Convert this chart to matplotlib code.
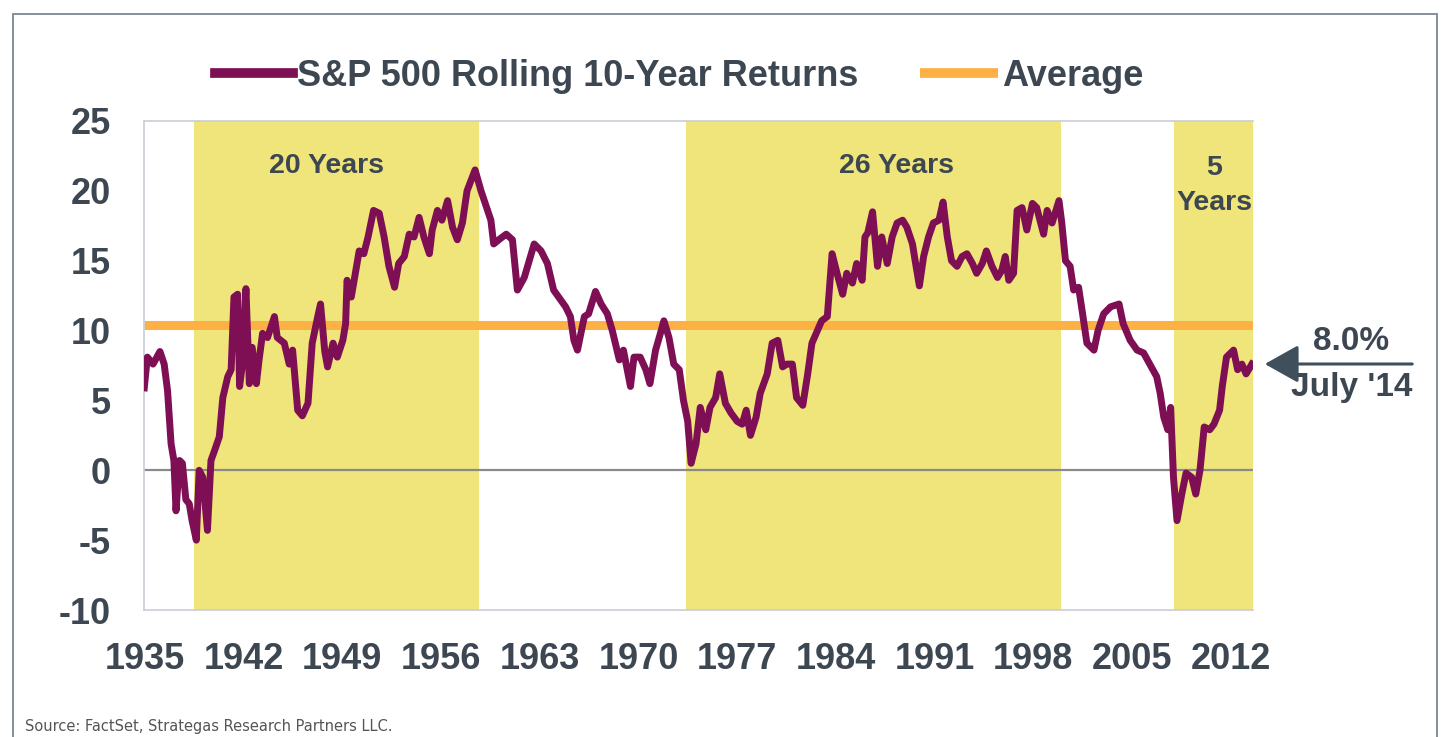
import matplotlib
matplotlib.use("Agg")
import matplotlib.pyplot as plt
from matplotlib.patches import Rectangle, FancyArrowPatch

# ---------------- data ----------------
years = [1934.95, 1935.17, 1935.57, 1936.06, 1936.36, 1936.6, 1936.85, 1937.05, 1937.2, 1937.45,
         1937.65, 1937.9, 1938.14, 1938.34, 1938.64, 1938.84, 1939.1, 1939.43, 1939.68, 1939.93,
         1940.27, 1940.52, 1940.87, 1941.11, 1941.31, 1941.57, 1941.71, 1941.91, 1942.16, 1942.4,
         1942.6, 1942.9, 1943.09, 1943.34, 1943.69, 1944.18, 1944.38, 1944.88, 1945.23, 1945.47,
         1945.83, 1946.16, 1946.56, 1946.86, 1947.25, 1947.45, 1947.75, 1947.95, 1948.34, 1948.64,
         1949.03, 1949.23, 1949.33, 1949.63, 1949.92, 1950.19, 1950.52, 1950.82, 1951.21, 1951.61,
         1951.96, 1952.3, 1952.7, 1952.99, 1953.39, 1953.74, 1954.08, 1954.44, 1954.78, 1955.17,
         1955.37, 1955.74, 1956.06, 1956.46, 1956.81, 1957.15, 1957.51, 1957.84, 1958.41, 1958.83,
         1959.13, 1959.53, 1959.73, 1960.22, 1960.62, 1961.06, 1961.41, 1961.9, 1962.6, 1963.09,
         1963.54, 1963.98, 1964.48, 1964.83, 1965.17, 1965.42, 1965.67, 1966.16, 1966.46, 1966.95,
         1967.35, 1967.79, 1968.14, 1968.64, 1968.93, 1969.43, 1969.68, 1970.12, 1970.52, 1970.81,
         1971.21, 1971.61, 1971.8, 1972.16, 1972.5, 1972.89, 1973.19, 1973.49, 1973.73, 1974.08,
         1974.38, 1974.77, 1975.07, 1975.47, 1975.76, 1976.16, 1976.56, 1977.0, 1977.35, 1977.64,
         1977.94, 1978.34, 1978.63, 1979.13, 1979.48, 1979.88, 1980.22, 1980.52, 1980.91, 1981.21,
         1981.65, 1982.0, 1982.3, 1982.69, 1982.99, 1983.39, 1983.73, 1984.08, 1984.48, 1984.77,
         1985.17, 1985.47, 1985.86, 1986.06, 1986.26, 1986.6, 1986.95, 1987.25, 1987.64, 1987.99,
         1988.34, 1988.73, 1989.03, 1989.43, 1989.62, 1989.92, 1990.22, 1990.57, 1990.91, 1991.31,
         1991.6, 1991.9, 1992.2, 1992.59, 1992.95, 1993.29, 1993.68, 1993.98, 1994.38, 1994.67,
         1995.07, 1995.46, 1995.76, 1996.01, 1996.26, 1996.6, 1996.85, 1997.2, 1997.54, 1997.94,
         1998.24, 1998.73, 1998.98, 1999.33, 1999.82, 2000.02, 2000.28, 2000.61, 2000.86, 2001.21,
         2001.45, 2001.8, 2002.3, 2002.59, 2002.99, 2003.48, 2004.08, 2004.37, 2004.87, 2005.36,
         2005.82, 2006.26, 2006.75, 2007.0, 2007.25, 2007.54, 2007.74, 2007.94, 2008.19, 2008.53,
         2008.83, 2009.23, 2009.52, 2009.82, 2010.12, 2010.51, 2010.81, 2011.21, 2011.4, 2011.7,
         2012.2, 2012.49, 2012.79, 2013.09, 2013.5]
returns = [5.9, 8.1, 7.6, 8.5, 7.6, 5.7, 1.9, 0.7, -2.9, 0.7,
           0.5, -2.1, -2.4, -3.6, -5.0, 0.0, -0.5, -4.3, 0.7, 1.4,
           2.4, 5.2, 6.7, 7.2, 12.4, 12.6, 6.0, 7.6, 13.0, 6.2,
           8.8, 6.2, 7.9, 9.8, 9.5, 11.0, 9.5, 9.1, 7.6, 8.6,
           4.3, 3.9, 4.8, 9.1, 11.0, 11.9, 8.5, 7.4, 9.1, 8.1,
           9.3, 10.5, 13.6, 12.4, 14.1, 15.7, 15.5, 16.7, 18.6, 18.4,
           16.7, 14.6, 13.1, 14.8, 15.3, 16.9, 16.7, 18.1, 16.7, 15.5,
           17.2, 18.6, 17.9, 19.3, 17.4, 16.5, 17.7, 20.0, 21.5, 20.0,
           19.1, 17.9, 16.2, 16.6, 16.9, 16.5, 12.9, 13.8, 16.2, 15.7,
           14.8, 12.9, 12.2, 11.7, 11.0, 9.3, 8.6, 11.0, 11.2, 12.8,
           11.9, 11.2, 10.0, 7.9, 8.6, 6.0, 8.1, 8.1, 7.2, 6.2,
           8.6, 10.0, 10.7, 9.5, 7.6, 7.2, 5.0, 3.5, 0.5, 1.9,
           4.5, 2.9, 4.5, 5.2, 6.9, 4.8, 4.1, 3.5, 3.3, 4.3,
           2.5, 3.8, 5.5, 6.9, 9.1, 9.3, 7.4, 7.6, 7.6, 5.2,
           4.65, 6.9, 9.1, 10.0, 10.7, 11.0, 15.5, 14.1, 12.6, 14.1,
           13.4, 14.8, 13.6, 16.7, 17.0, 18.5, 14.6, 16.7, 14.8, 16.7,
           17.7, 17.9, 17.4, 16.2, 15.0, 13.2, 15.3, 16.7, 17.7, 17.9,
           19.2, 16.7, 15.0, 14.6, 15.3, 15.5, 14.8, 14.1, 14.8, 15.7,
           14.6, 13.8, 14.3, 15.3, 13.6, 14.1, 18.6, 18.8, 17.2, 19.1,
           18.8, 16.9, 18.6, 17.7, 19.3, 17.7, 15.0, 14.6, 12.9, 13.1,
           11.5, 9.1, 8.6, 10.0, 11.2, 11.7, 11.9, 10.5, 9.3, 8.6,
           8.4, 7.6, 6.7, 5.5, 3.8, 2.9, 4.5, -0.5, -3.6, -1.7,
           -0.2, -0.5, -1.7, 0.0, 3.1, 2.9, 3.3, 4.3, 6.0, 8.1,
           8.6, 7.2, 7.6, 6.9, 7.6]
average_value = 10.4
bull_periods = [(1938.46, 1958.66), (1973.40, 1999.99), (2008.0, 2013.58)]
bull_labels = ["20 Years", "26 Years", "5\nYears"]
x_ticks = [1935, 1942, 1949, 1956, 1963, 1970, 1977, 1984, 1991, 1998, 2005, 2012]
y_ticks = [-10, -5, 0, 5, 10, 15, 20, 25]
series_name = "S&P 500 Rolling 10-Year Returns"
avg_name = "Average"
latest_label = "8.0%"
latest_date = "July '14"
source_text = "Source: FactSet, Strategas Research Partners LLC."

# ---------------- style ----------------
PURPLE = "#7E0F55"
ORANGE = "#FDB144"
YELLOW = "#EFE57A"
TEXT = "#3D4752"
NARROW = ["Liberation Sans Narrow", "Liberation Sans", "DejaVu Sans"]
WIDE = ["Liberation Sans", "DejaVu Sans"]

W, H = 1441, 737
fig = plt.figure(figsize=(W / 100, H / 100), dpi=100)
fig.patch.set_facecolor("white")

def fx(px):
    return px / W

def fy(py):
    return 1 - py / H

ax = fig.add_axes([fx(144), fy(610), fx(1253) - fx(144), fy(121) - fy(610)])
ax.set_xlim(1934.93, 2013.58)
ax.set_ylim(-10, 25)

for (a, b) in bull_periods:
    ax.axvspan(a, b, color=YELLOW, lw=0, zorder=0)

ax.axhline(0, color="#8A8A8A", lw=1.6, zorder=1)
avg_line, = ax.plot([1934.93, 2013.58], [average_value, average_value], color=ORANGE,
                    lw=6.5, solid_capstyle="butt", zorder=2, label=avg_name)
ret_line, = ax.plot(years, returns, color=PURPLE, lw=5, solid_joinstyle="round",
                    zorder=3, label=series_name)

# labels inside shaded periods
lab_kw = dict(ha="center", va="center", fontsize=20.5, fontweight="bold",
              color=TEXT, family=WIDE)
ax.text(1947.9, 21.8, bull_labels[0], **lab_kw)
ax.text(1988.3, 21.8, bull_labels[1], **lab_kw)
ax.text(2010.85, 20.4, bull_labels[2], linespacing=1.45, **lab_kw)

ax.set_xticks(x_ticks)
ax.set_xticklabels([str(t) for t in x_ticks])
ax.set_yticks(y_ticks)
ax.set_yticklabels([str(t) for t in y_ticks])
ax.tick_params(axis="both", length=0, labelsize=26, labelcolor=TEXT)
ax.tick_params(axis="x", pad=23)
ax.tick_params(axis="y", pad=24)
for lab in ax.get_xticklabels() + ax.get_yticklabels():
    lab.set_fontweight("bold")
    lab.set_family(NARROW)

for side in ["left", "top", "bottom"]:
    ax.spines[side].set_color("#C9CED6")
    ax.spines[side].set_linewidth(1.2)
ax.spines["right"].set_visible(False)
ax.set_facecolor("white")

# legend
leg_fs = 26
em = leg_fs * 100 / 72
leg = fig.legend(handles=[ret_line, avg_line], labels=[series_name, avg_name],
                 loc="center", bbox_to_anchor=(fx(679), fy(76)), ncol=2, frameon=False,
                 handlelength=78 / em, handletextpad=4 / em, columnspacing=62 / em,
                 prop={"family": NARROW, "weight": "bold", "size": leg_fs})
for t in leg.get_texts():
    t.set_color(TEXT)
for h in leg.legend_handles:
    h.set_linewidth(7)

# latest value annotation
fig.add_artist(FancyArrowPatch(
    (fx(1415), fy(364)), (fx(1262), fy(364)), transform=fig.transFigure,
    arrowstyle="-|>,head_length=0.75,head_width=0.42", mutation_scale=28,
    color="#3F4F5C", lw=2.2))
fig.text(fx(1351), fy(342), latest_label, ha="center", va="center", fontsize=24,
         fontweight="bold", color=TEXT, family=NARROW)
fig.text(fx(1352), fy(387), latest_date, ha="center", va="center", fontsize=24,
         fontweight="bold", color=TEXT, family=NARROW)

# source
fig.text(fx(25), fy(727), source_text, ha="left", va="center", fontsize=10.5,
         color="#555555", family=["DejaVu Sans"])

# outer frame
fig.add_artist(Rectangle((fx(13), fy(760)), fx(1437) - fx(13), fy(14) - fy(760),
                         transform=fig.transFigure, fill=False, edgecolor="#7D8790",
                         lw=1.3, clip_on=False))

fig.savefig("out.png", dpi=100)
